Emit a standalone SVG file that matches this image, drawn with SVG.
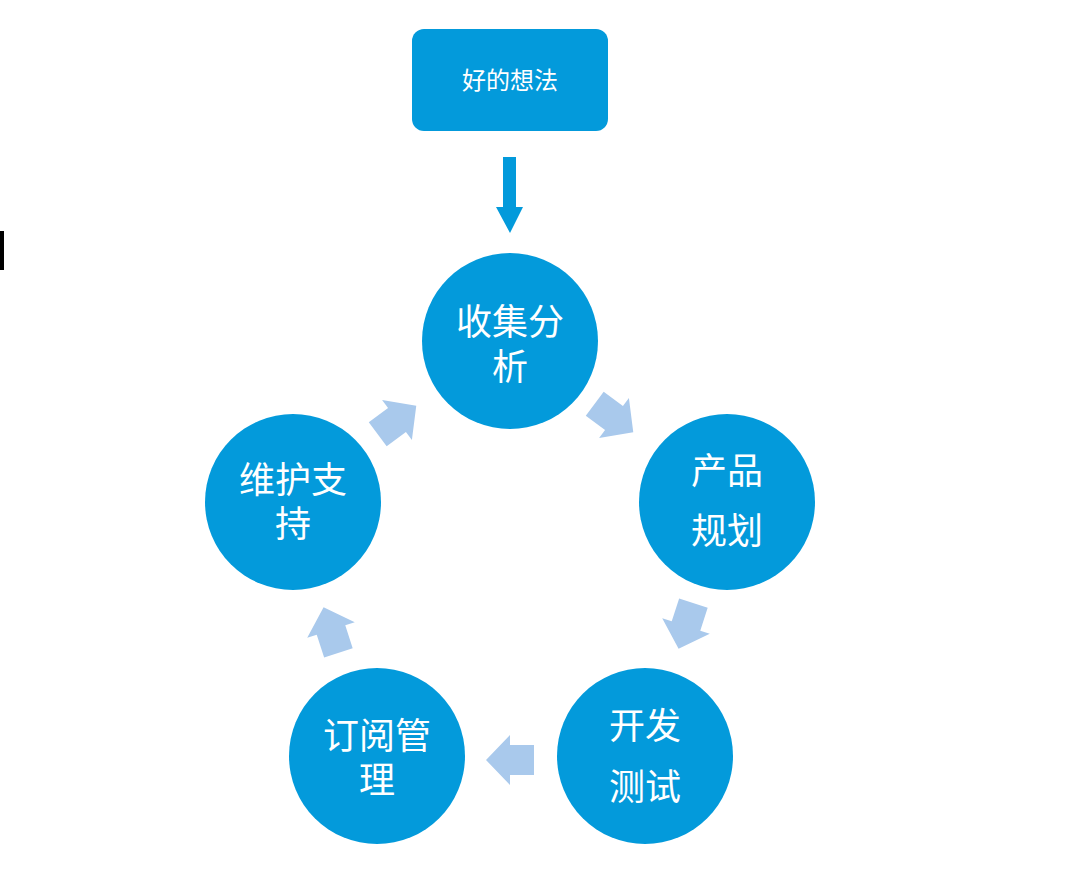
<svg xmlns="http://www.w3.org/2000/svg" width="1080" height="895" viewBox="0 0 1080 895">
<style>
.n{fill:#039ADB}
.t{fill:#fff;font-family:"Liberation Serif","Noto Sans CJK SC",serif;font-size:36px;text-anchor:middle}
.a{fill:#A9C9EC}
</style>
<defs><polygon id="ar" points="-24,-15 0,-15 0,-25 24,0 0,25 0,15 -24,15"/></defs>
<rect width="1080" height="895" fill="#fff"/>
<rect x="0" y="231" width="4" height="39" fill="#000"/>
<g id="idea"><rect class="n" x="412" y="29" width="196" height="102" rx="12"/><text class="t" x="510" y="89" style="font-size:24px">好的想法</text></g>
<g id="c1"><circle class="n" cx="510" cy="341" r="88"/><text class="t" x="510" y="335">收集分</text><text class="t" x="510" y="380">析</text></g>
<g id="c2"><circle class="n" cx="727" cy="502" r="88"/><text class="t" x="727" y="484">产品</text><text class="t" x="727" y="544">规划</text></g>
<g id="c3"><circle class="n" cx="645" cy="756" r="88"/><text class="t" x="645" y="739">开发</text><text class="t" x="645" y="800">测试</text></g>
<g id="c4"><circle class="n" cx="377" cy="756" r="88"/><text class="t" x="377" y="749">订阅管</text><text class="t" x="377" y="793">理</text></g>
<g id="c5"><circle class="n" cx="293" cy="502" r="88"/><text class="t" x="293" y="493">维护支</text><text class="t" x="293" y="537">持</text></g>
<g id="connectors">
<polygon class="n" points="503,157 516,157 516,207 523,207 510,233 496,207 503,207"/>
<use href="#ar" class="a" transform="translate(397,420) rotate(-36.6)"/>
<use href="#ar" class="a" transform="translate(614,418) rotate(36.6)"/>
<use href="#ar" class="a" transform="translate(686,626) rotate(108)"/>
<use href="#ar" class="a" transform="translate(510,760) rotate(180)"/>
<use href="#ar" class="a" transform="translate(331,630) rotate(-108)"/>
</g>
</svg>
